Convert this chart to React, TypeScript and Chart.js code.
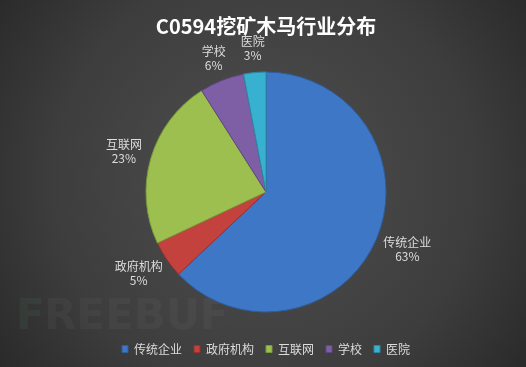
import React, { useEffect, useRef } from "react";
import { Chart, registerables } from "chart.js";

Chart.register(...registerables);

const titleText = "C0594挖矿木马行业分布";
const categories = ["传统企业", "政府机构", "互联网", "学校", "医院"];
const percents = [63, 5, 23, 6, 3];
const colors = ["#3d77c6", "#c3423e", "#9cbf4f", "#7e5fa6", "#38b0cf"];
const borderColors = ["#2f5e9e", "#9a302d", "#7a9a3a", "#5f4683", "#2a8aa3"];

const backgroundPlugin = {
  id: "bgPlugin",
  beforeDraw(chart: any) {
    const { ctx, width, height } = chart;
    ctx.save();
    const g = ctx.createRadialGradient(263, 180, 20, 263, 180, 340);
    g.addColorStop(0, "#4e4e4e");
    g.addColorStop(0.6, "#3d3d3d");
    g.addColorStop(1, "#272727");
    ctx.fillStyle = g;
    ctx.fillRect(0, 0, width, height);
    // faint watermark
    ctx.font = "bold 42px 'DejaVu Sans'";
    ctx.textBaseline = "middle";
    ctx.textAlign = "left";
    ctx.fillStyle = "rgba(90,150,110,0.10)";
    ctx.fillText("F", 16, 318);
    ctx.fillStyle = "rgba(255,255,255,0.035)";
    ctx.fillText("REEBUF", 44, 318);
    ctx.restore();
  },
};

const outsideLabels = {
  id: "outsideLabels",
  afterDatasetsDraw(chart: any) {
    const { ctx } = chart;
    const meta = chart.getDatasetMeta(0);
    ctx.save();
    ctx.font = "12px 'Noto Sans CJK SC'";
    ctx.fillStyle = "#dcdcdc";
    ctx.textAlign = "center";
    ctx.textBaseline = "middle";
    meta.data.forEach((arc: any, i: number) => {
      const mid = (arc.startAngle + arc.endAngle) / 2;
      const ux = Math.cos(mid);
      const uy = Math.sin(mid);
      const name = categories[i];
      const pct = percents[i] + "%";
      const w = Math.max(ctx.measureText(name).width, ctx.measureText(pct).width);
      const h = 28;
      const r = arc.outerRadius + 10;
      const cx = arc.x + ux * r + ux * (w / 2);
      const cy = arc.y + uy * r + uy * (h / 2);
      ctx.fillText(name, cx, cy - 7);
      ctx.fillText(pct, cx, cy + 7);
    });
    ctx.restore();
  },
};

export default function App() {
  const ref = useRef<HTMLCanvasElement | null>(null);
  useEffect(() => {
    document.body.style.margin = "0";
    const chart = new Chart(ref.current as HTMLCanvasElement, {
      type: "pie",
      data: {
        labels: categories,
        datasets: [
          {
            data: percents,
            backgroundColor: colors,
            borderColor: borderColors,
            borderWidth: 1,
            radius: 120,
          },
        ],
      },
      options: {
        animation: false,
        responsive: false,
        layout: { padding: { top: 0, bottom: 2, left: 20, right: 14 } },
        plugins: {
          title: {
            display: true,
            text: titleText,
            color: "#ffffff",
            font: { size: 20, weight: "bold", family: "'Noto Sans CJK SC'", lineHeight: 1.2 },
            padding: { top: 14, bottom: 15 },
          },
          legend: {
            position: "bottom",
            labels: {
              color: "#dcdcdc",
              boxWidth: 6,
              boxHeight: 7,
              padding: 12,
              font: { size: 12, family: "'Noto Sans CJK SC'" },
            },
          },
          tooltip: { enabled: false },
        },
      },
      plugins: [backgroundPlugin, outsideLabels],
    } as any);
    return () => chart.destroy();
  }, []);
  return <canvas ref={ref} width={526} height={367} style={{ display: "block" }} />;
}
